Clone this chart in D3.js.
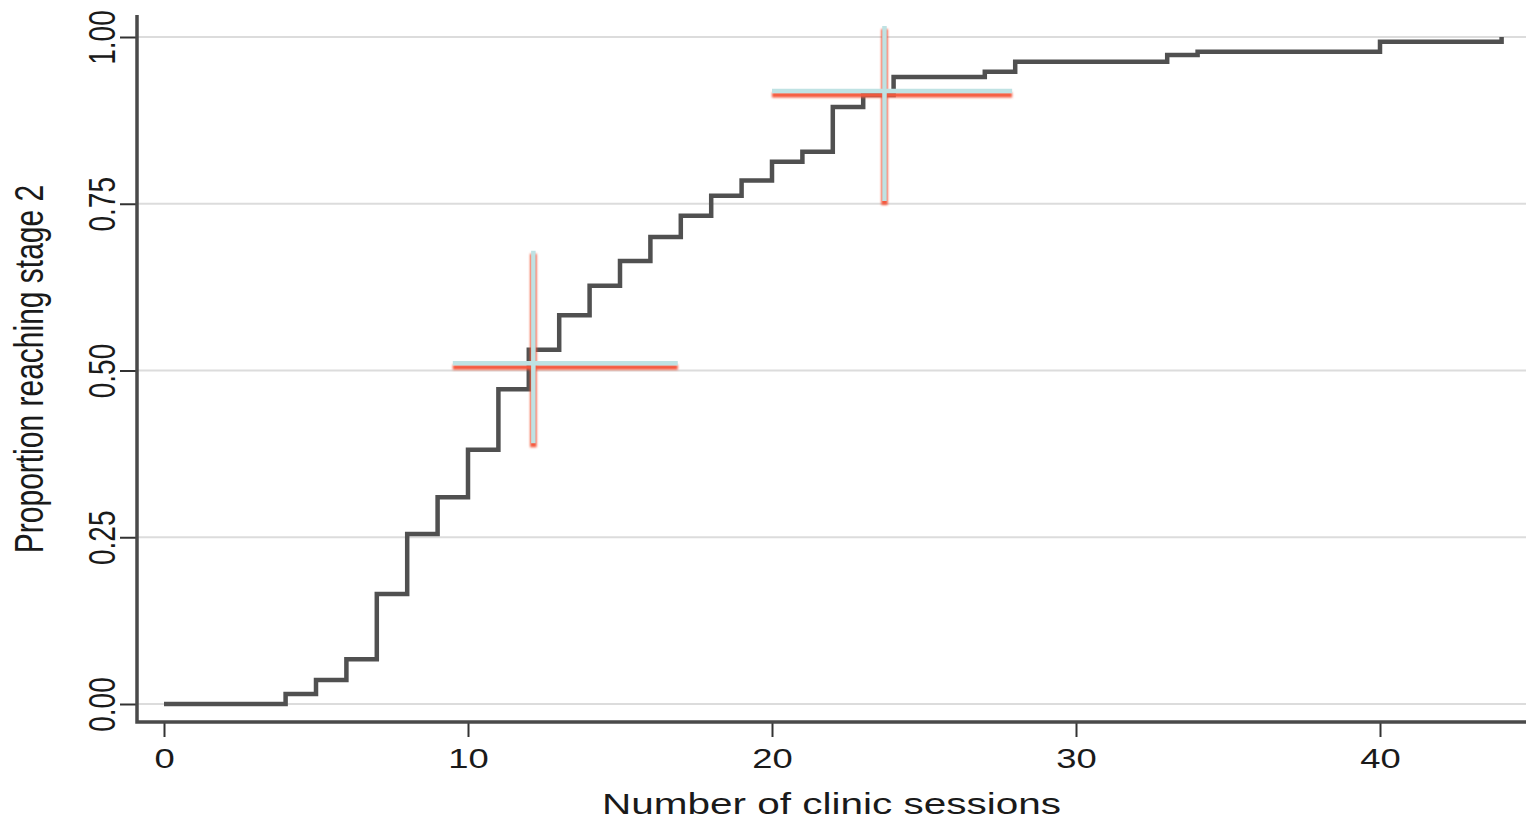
<!DOCTYPE html>
<html>
<head>
<meta charset="utf-8">
<script src="https://cdn.jsdelivr.net/npm/d3@7"></script>
<style>
  body { margin: 0; background: #fff; }
  text { font-family: "Liberation Sans", Arial, sans-serif; fill: #1a1a1a; }
</style>
</head>
<body>
<div id="myChart"></div>
<script>
// step curve: number of sessions and cumulative proportion reaching stage 2
var sessions = [0, 4, 5, 6, 7, 8, 9, 10, 11, 12, 13, 14, 15, 16, 17, 18, 19, 20, 21, 22, 23, 24, 27, 28, 33, 34, 40, 44];
var proportion = [0, 0.015, 0.036, 0.067, 0.165, 0.255, 0.31, 0.381, 0.472, 0.531, 0.583, 0.627, 0.664, 0.70, 0.732, 0.762, 0.785, 0.813, 0.828, 0.895, 0.913, 0.94, 0.948, 0.963, 0.973, 0.978, 0.993, 1.0];

// the two crosses (centre and extent of each arm)
var crossX = [12.15, 23.7];
var crossY = [0.508, 0.916];
var crossXLo = [9.5, 20.0];
var crossXHi = [16.9, 27.9];
var crossYLo = [0.388, 0.751];
var crossYHi = [0.678, 1.015];

var xTicks = [0, 10, 20, 30, 40];
var yTicks = [0, 0.25, 0.5, 0.75, 1];

var W = 1526, H = 820;
var plotLeft = 137, plotRight = 1526, plotTop = 15, plotBottom = 722;

var svg = d3.select("#myChart")
  .append("svg")
  .attr("width", W)
  .attr("height", H);

var defs = svg.append("defs");
defs.append("filter").attr("id", "soft")
  .append("feGaussianBlur").attr("stdDeviation", 0.8);

var x = d3.scaleLinear().domain([0, 40]).range([164, 1380]);
var y = d3.scaleLinear().domain([0, 1]).range([704, 37]);

// gridlines
svg.append("g").selectAll("line")
  .data(yTicks)
  .enter().append("line")
  .attr("x1", plotLeft).attr("x2", plotRight)
  .attr("y1", function(d) { return y(d); })
  .attr("y2", function(d) { return y(d); })
  .attr("stroke", "#dcdcdc")
  .attr("stroke-width", 2);

// y axis
var yAxis = d3.axisLeft(y).tickValues(yTicks).tickSize(17);
var gy = svg.append("g").attr("transform", "translate(" + plotLeft + ",0)").call(yAxis);
gy.select(".domain").remove();
gy.selectAll(".tick line").attr("stroke", "#333").attr("stroke-width", 2);
gy.selectAll(".tick text").remove();
gy.selectAll(".tick").append("text")
  .attr("text-anchor", "middle")
  .attr("transform", "translate(-22,0) scale(1.35,1) rotate(-90)")
  .style("font-size", "28px")
  .text(function(d) { return d3.format(".2f")(d); });

// x axis
var xAxis = d3.axisBottom(x).tickValues(xTicks).tickSize(15);
var gx = svg.append("g").attr("transform", "translate(0," + plotBottom + ")").call(xAxis);
gx.select(".domain").remove();
gx.selectAll(".tick line").attr("stroke", "#333").attr("stroke-width", 2);
gx.selectAll(".tick text").remove();
gx.selectAll(".tick").append("text")
  .attr("text-anchor", "middle")
  .attr("transform", "translate(0,46) scale(1.3,1)")
  .style("font-size", "28px")
  .text(function(d) { return d; });

// axis frame lines
svg.append("path")
  .attr("d", "M" + plotLeft + "," + plotTop + "V" + plotBottom + "H" + plotRight)
  .attr("fill", "none")
  .attr("stroke", "#4a4a4a")
  .attr("stroke-width", 3.5);

// axis titles
svg.append("text")
  .attr("text-anchor", "middle")
  .attr("transform", "translate(43,369) scale(1.35,1) rotate(-90)")
  .style("font-size", "30px")
  .text("Proportion reaching stage 2");

svg.append("text")
  .attr("text-anchor", "middle")
  .attr("transform", "translate(" + ((plotLeft + plotRight) / 2) + ",814) scale(1.35,1)")
  .style("font-size", "30px")
  .text("Number of clinic sessions");

// step curve
var pts = sessions.map(function(s, i) { return [s, proportion[i]]; });
svg.append("path")
  .datum(pts)
  .attr("fill", "none")
  .attr("stroke", "#505050")
  .attr("stroke-width", 4.5)
  .attr("stroke-linejoin", "miter")
  .attr("d", d3.line()
    .x(function(d) { return x(d[0]); })
    .y(function(d) { return y(d[1]); })
    .curve(d3.curveStepAfter));

// crosses: red layer underneath, pale cyan on top shifted up a little
var crosses = crossX.map(function(cx, i) {
  return { cx: cx, cy: crossY[i], x0: crossXLo[i], x1: crossXHi[i], y0: crossYLo[i], y1: crossYHi[i] };
});

var red = svg.append("g").attr("filter", "url(#soft)");
red.selectAll(".hred").data(crosses).enter().append("line")
  .attr("x1", function(d) { return x(d.x0); })
  .attr("x2", function(d) { return x(d.x1); })
  .attr("y1", function(d) { return y(d.cy) + 2; })
  .attr("y2", function(d) { return y(d.cy) + 2; })
  .attr("stroke", "#f4583d")
  .attr("stroke-width", 5);
red.selectAll(".vred").data(crosses).enter().append("line")
  .attr("x1", function(d) { return x(d.cx); })
  .attr("x2", function(d) { return x(d.cx); })
  .attr("y1", function(d) { return y(d.y1) + 2; })
  .attr("y2", function(d) { return y(d.y0) + 2; })
  .attr("stroke", "#f4583d")
  .attr("stroke-width", 6.5);

var cyan = svg.append("g");
cyan.selectAll(".hcy").data(crosses).enter().append("line")
  .attr("x1", function(d) { return x(d.x0); })
  .attr("x2", function(d) { return x(d.x1); })
  .attr("y1", function(d) { return y(d.cy) - 2; })
  .attr("y2", function(d) { return y(d.cy) - 2; })
  .attr("stroke", "#bfe2e3")
  .attr("stroke-width", 4.5);
cyan.selectAll(".vcy").data(crosses).enter().append("line")
  .attr("x1", function(d) { return x(d.cx); })
  .attr("x2", function(d) { return x(d.cx); })
  .attr("y1", function(d) { return y(d.y1) - 1; })
  .attr("y2", function(d) { return y(d.y0) - 2; })
  .attr("stroke", "#bfe2e3")
  .attr("stroke-width", 4.5);
</script>
</body>
</html>
